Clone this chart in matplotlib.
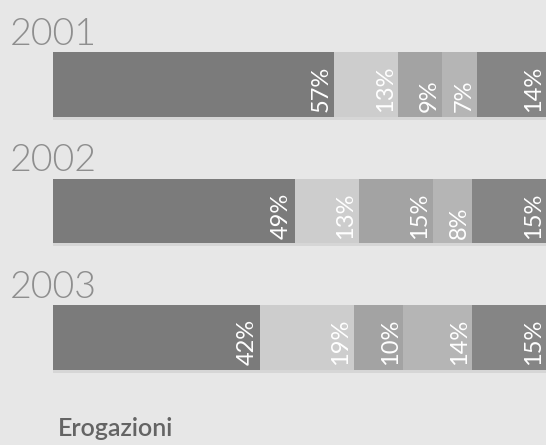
import matplotlib.pyplot as plt
import matplotlib.transforms as mtransforms
import numpy as np

# Data
years = ['2001', '2002', '2003']
shares = [
    [57, 13, 9, 7, 14],
    [49, 13, 15, 8, 15],
    [42, 19, 10, 14, 15],
]
seg_colors = ['#7b7b7b', '#cdcdcd', '#a3a3a3', '#b5b5b5', '#858585']
footer = 'Erogazioni'

bg = '#e7e7e7'
plt.rcParams['font.family'] = ['Lato', 'DejaVu Sans']

fig = plt.figure(figsize=(5.46, 4.45), dpi=100, facecolor=bg)
ax = fig.add_axes([53 / 546, 0, 493 / 546, 1])
ax.set_facecolor(bg)

bar_h = 0.51
for i, row in enumerate(shares):
    lefts = np.concatenate([[0], np.cumsum(row)[:-1]])
    # soft shadow under the bar
    ax.barh(i + 0.025, sum(row), left=0, height=bar_h, color='#d6d6d6', zorder=1)
    ax.barh(i, row, left=lefts, height=bar_h, color=seg_colors, zorder=2)
    for left, val in zip(lefts, row):
        ax.text(left + val - 0.5, i + bar_h / 2 - 0.035, f'{val}%',
                rotation=90, ha='right', va='bottom', color='white',
                fontsize=17, zorder=3)

ax.set_xlim(0, 100)
ax.set_ylim(2.85, -0.668)
ax.axis('off')

# year labels above each bar, starting near the left edge of the figure
trans = mtransforms.blended_transform_factory(fig.transFigure, ax.transData)
for i, yr in enumerate(years):
    ax.text(10 / 546, i - bar_h / 2 - 0.06, yr, transform=trans,
            ha='left', va='baseline', fontsize=27, color='#8e8e8e',
            fontweight=300)

fig.text(58 / 546, 1 - 436 / 445, footer, ha='left', va='baseline',
         fontsize=18, color='#646464', fontweight=600)

fig.savefig('out.png', dpi=100, facecolor=bg)
